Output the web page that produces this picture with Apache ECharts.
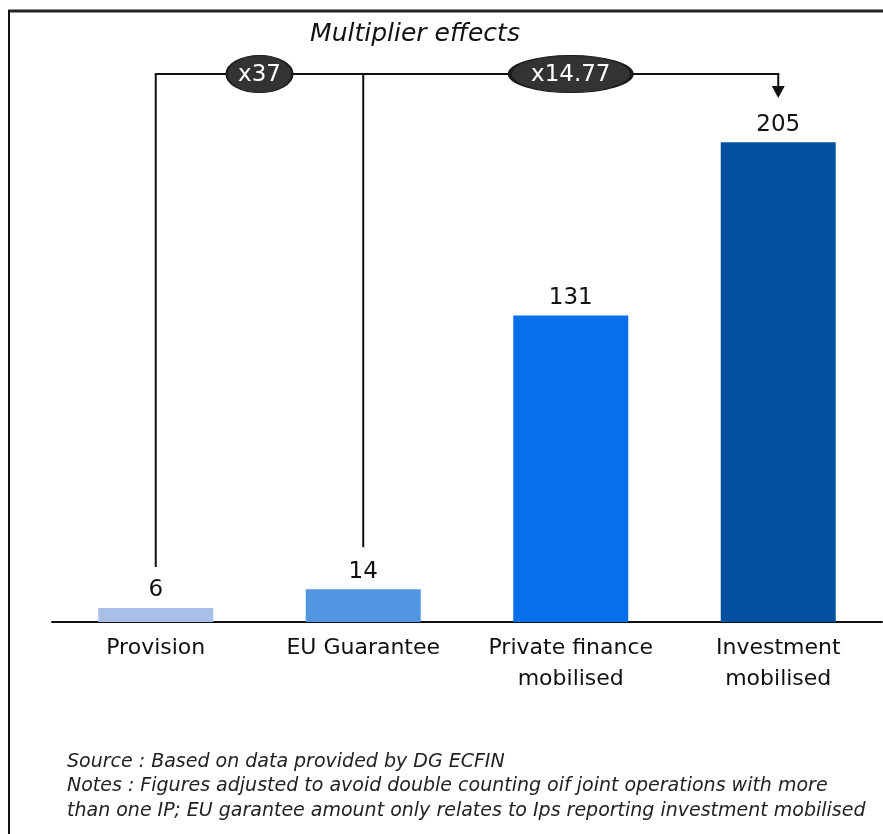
<!DOCTYPE html>
<html>
<head>
<meta charset="utf-8">
<script src="https://cdn.jsdelivr.net/npm/echarts@6/dist/echarts.min.js"></script>
<style>
  html, body { margin: 0; padding: 0; background: #fff; }
  #chart { width: 883px; height: 834px; }
</style>
</head>
<body>
<div id="chart"></div>
<script>
// Amounts (EUR bn) by stage of the investment chain
const categories = ['Provision', 'EU Guarantee', 'Private finance\nmobilised', 'Investment\nmobilised'];
const values = [6, 14, 131, 205];
const barColors = ['#aabfe7', '#5295e1', '#0670ea', '#02509f'];
const multipliers = ['x37', 'x14.77'];
const titleText = 'Multiplier effects';
const noteLines = [
  'Source : Based on data provided by DG ECFIN',
  'Notes : Figures adjusted to avoid double counting oif joint operations with more',
  'than one IP; EU garantee amount only relates to Ips reporting investment mobilised'
];

const chart = echarts.init(document.getElementById('chart'), null, { renderer: 'canvas' });

const baseFont = '"DejaVu Sans", Verdana, sans-serif';

chart.setOption({
  animation: false,
  backgroundColor: '#ffffff',
  grid: { left: 52, right: 1, top: 37, bottom: 212, containLabel: false },
  xAxis: {
    type: 'category',
    data: categories,
    axisLine: { show: true, lineStyle: { color: '#111', width: 2 } },
    axisTick: { show: false },
    axisLabel: {
      color: '#111',
      fontFamily: baseFont,
      fontSize: 22,
      lineHeight: 31,
      margin: 11,
      interval: 0
    }
  },
  yAxis: {
    type: 'value',
    min: 0,
    max: 250,
    show: false,
    splitLine: { show: false }
  },
  series: [{
    type: 'bar',
    barWidth: 115,
    data: values.map((v, i) => ({ value: v, itemStyle: { color: barColors[i] } })),
    label: {
      show: true,
      position: 'top',
      distance: 6,
      color: '#111',
      fontFamily: baseFont,
      fontSize: 23
    }
  }]
});

// Bracket annotation linking the bars, positioned from the axes
function drawAnnotations() {
  const xs = categories.map((c, i) => chart.convertToPixel({ xAxisIndex: 0 }, i));
  const tops = values.map(v => chart.convertToPixel({ yAxisIndex: 0 }, v));
  const bracketY = 74;
  const lineStyle = { stroke: '#111', lineWidth: 2 };
  const els = [];

  // frame: top rule and left rule
  els.push({ type: 'line', shape: { x1: 8, y1: 11, x2: 883, y2: 11 }, style: { stroke: '#222', lineWidth: 3 }, silent: true });
  els.push({ type: 'line', shape: { x1: 9, y1: 10, x2: 9, y2: 834 }, style: { stroke: '#111', lineWidth: 2 }, silent: true });

  // title
  els.push({
    type: 'text', x: 415, y: 34,
    style: { text: titleText, font: 'italic 25px ' + baseFont, fill: '#111', align: 'center', verticalAlign: 'middle' },
    silent: true
  });

  // connectors
  els.push({ type: 'line', shape: { x1: xs[0], y1: tops[0] - 41, x2: xs[0], y2: bracketY }, style: lineStyle, silent: true });
  els.push({ type: 'line', shape: { x1: xs[1], y1: tops[1] - 42, x2: xs[1], y2: bracketY }, style: lineStyle, silent: true });
  els.push({ type: 'line', shape: { x1: xs[0] - 1, y1: bracketY, x2: xs[3] + 1, y2: bracketY }, style: lineStyle, silent: true });
  els.push({ type: 'line', shape: { x1: xs[3], y1: bracketY, x2: xs[3], y2: bracketY + 14 }, style: lineStyle, silent: true });
  els.push({
    type: 'polygon',
    shape: { points: [[xs[3] - 6.5, bracketY + 12], [xs[3] + 6.5, bracketY + 12], [xs[3], bracketY + 24]] },
    style: { fill: '#111' }, silent: true
  });

  // multiplier badges
  const badgeCx = [(xs[0] + xs[1]) / 2, (xs[1] + xs[3]) / 2];
  const badgeW = [66, 122];
  for (let i = 0; i < 2; i++) {
    const r = 18.5;
    els.push({
      type: 'circle', x: badgeCx[i], y: bracketY, scaleX: badgeW[i] / (2 * r),
      shape: { cx: 0, cy: 0, r: r },
      style: { fill: '#333333', stroke: '#1a1a1a', lineWidth: 1.2 },
      silent: true
    });
    els.push({
      type: 'text', x: badgeCx[i], y: bracketY + 1,
      style: { text: multipliers[i], font: '23px ' + baseFont, fill: '#ffffff', align: 'center', verticalAlign: 'middle' },
      silent: true
    });
  }

  // source and notes
  noteLines.forEach((t, i) => {
    els.push({
      type: 'text', x: 67, y: 762 + i * 24.5,
      style: { text: t, font: 'italic 19px ' + baseFont, fill: '#222', align: 'left', verticalAlign: 'middle' },
      silent: true
    });
  });

  chart.setOption({ graphic: { elements: els } });
}
drawAnnotations();
</script>
</body>
</html>
